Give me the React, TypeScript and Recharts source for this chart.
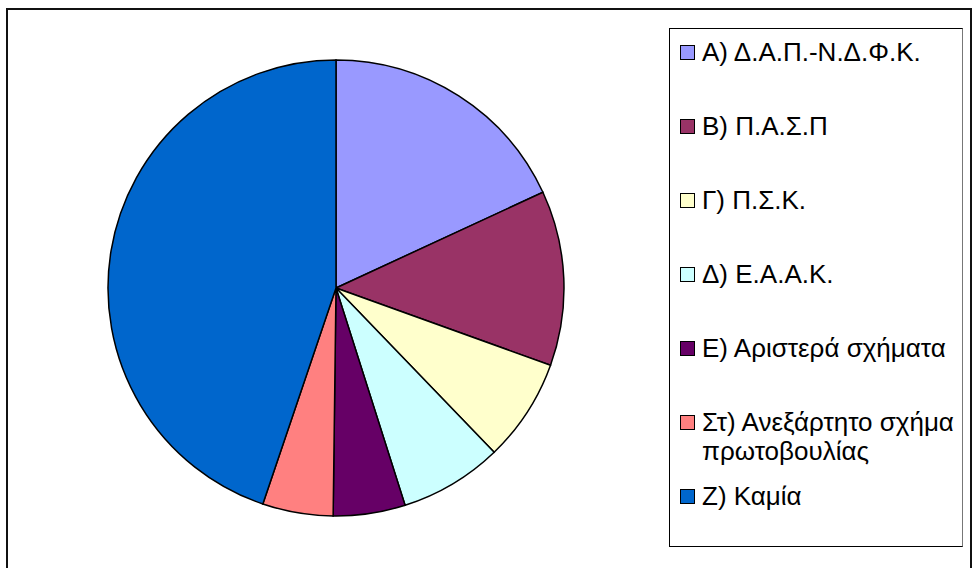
import { Cell, Legend, Pie, PieChart } from "recharts";

const categories = [
  "Α) Δ.Α.Π.-Ν.Δ.Φ.Κ.",
  "Β) Π.Α.Σ.Π",
  "Γ) Π.Σ.Κ.",
  "Δ) Ε.Α.Α.Κ.",
  "Ε) Αριστερά σχήματα",
  "Στ) Ανεξάρτητο σχήμα πρωτοβουλίας",
  "Ζ) Καμία",
];
const shares = [18.1, 12.4, 7.3, 7.3, 5.1, 5.0, 44.8];
const colors = ["#9999FF", "#993366", "#FFFFCC", "#CCFFFF", "#660066", "#FF8080", "#0066CC"];

const data = categories.map((name, i) => ({ name, value: shares[i] }));

const FONT = '"Liberation Sans", Arial, sans-serif';

// legend keeps the series order (recharts would sort it by name)
function renderLegend() {
  return (
    <div
      style={{
        position: "relative",
        width: 294,
        height: 519,
        boxSizing: "border-box",
        border: "1px solid #000",
        borderRightColor: "#777",
        background: "#fff",
        fontFamily: FONT,
      }}
    >
      {categories.map((label, i) => (
        <div key={label} style={{ position: "absolute", left: 0, top: 23 + 74 * i - 14, width: 292, height: 29 }}>
          <div
            style={{
              position: "absolute",
              left: 10,
              top: 7,
              width: 15,
              height: 15,
              boxSizing: "border-box",
              border: "1.5px solid #000",
              background: colors[i],
            }}
          />
          <div
            style={{
              position: "absolute",
              left: 32,
              top: 0,
              width: 258,
              fontSize: 26,
              lineHeight: "29px",
              color: "#000",
              whiteSpace: "normal",
            }}
          >
            {label}
          </div>
        </div>
      ))}
    </div>
  );
}

export default function App() {
  return (
    <div style={{ position: "relative", width: 972, height: 568, overflow: "hidden", background: "#fff" }}>
      <style>{`body{margin:0}`}</style>
      <div
        style={{
          position: "absolute",
          left: 6,
          top: 8,
          width: 966,
          height: 570,
          boxSizing: "border-box",
          border: "2px solid #111",
        }}
      />
      <div style={{ position: "absolute", left: 0, top: 0 }}>
        <PieChart width={972} height={568} margin={{ top: 0, right: 0, bottom: 0, left: 0 }}>
          <Pie
            data={data}
            dataKey="value"
            nameKey="name"
            cx={336}
            cy={288}
            outerRadius={228}
            startAngle={90}
            endAngle={-270}
            stroke="#000"
            strokeWidth={1.5}
            isAnimationActive={false}
          >
            {data.map((d, i) => (
              <Cell key={d.name} fill={colors[i]} />
            ))}
          </Pie>
          <Legend
            content={renderLegend}
            wrapperStyle={{ position: "absolute", left: 669, top: 28, width: 294, height: 519 }}
          />
        </PieChart>
      </div>
    </div>
  );
}
